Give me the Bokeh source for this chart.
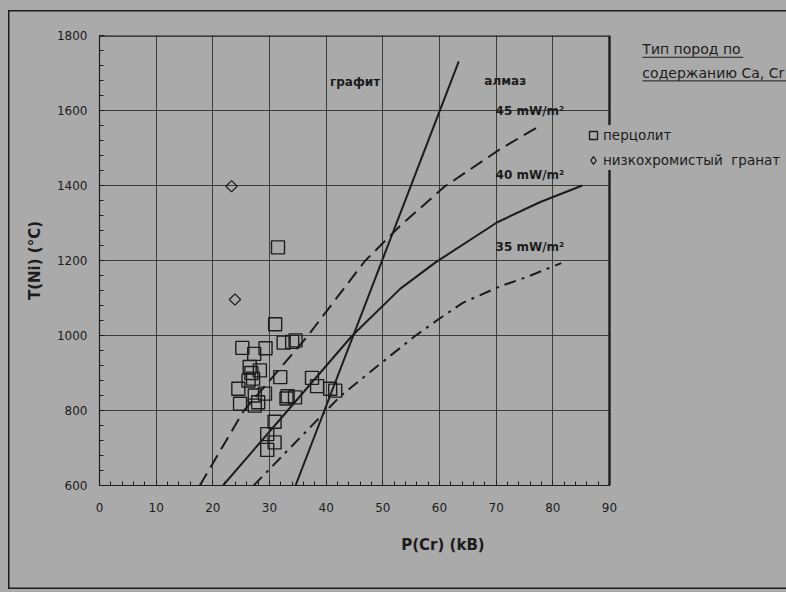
from bokeh.plotting import figure
from bokeh.models import Range1d, SingleIntervalTicker, Label, Legend, LegendItem
from bokeh.embed import file_html
from bokeh.resources import INLINE

# ---------------- data ----------------
# peridotite samples (open squares): P(Cr) kbar, T(Ni) degC
lherz_P = [31.5, 31.0, 25.2, 27.3, 29.3, 32.5, 34.6, 34.0, 26.5, 28.3, 26.8, 27.1,
           26.3, 24.5, 31.9, 37.5, 38.4, 40.7, 41.6, 33.2, 34.5, 33.0, 29.2, 27.4,
           24.8, 27.4, 28.0, 30.9, 29.6, 30.9, 29.6]
lherz_T = [1235, 1030, 967, 951, 966, 981, 987, 983, 916, 907, 900, 885,
           880, 858, 889, 887, 865, 858, 853, 838, 835, 832, 845, 840,
           818, 813, 822, 770, 737, 715, 695]
# low-Cr garnets (open diamonds)
lowcr_P = [23.3, 23.9]
lowcr_T = [1398, 1096]

# graphite / diamond boundary
gd_P = [34.6, 63.4]
gd_T = [600, 1731]
# geotherms
g45_P = [17.7, 25.4, 36.7, 46.8, 53.1, 60.8, 70.8, 77.5]
g45_T = [600, 798, 998, 1198, 1293, 1396, 1498, 1557]
g40_P = [21.8, 33.1, 44.5, 53.1, 59.3, 70.2, 77.8, 85.2]
g40_T = [600, 798, 998, 1125, 1195, 1302, 1356, 1400]
g35_P = [27.2, 42.5, 49.0, 55.8, 59.9, 64.1, 70.5, 75.4, 81.5]
g35_T = [600, 838, 918, 1000, 1044, 1087, 1130, 1156, 1193]

x_min, x_max, x_step = 0, 90, 10
y_min, y_max, y_step = 600, 1800, 200
y_grid_values = list(range(y_min + y_step, y_max, y_step))

# ---------------- styling ----------------
BG = "#aaaaaa"
INK = "#1c1c1c"
GRID = "#3c3c3c"
FONT = "DejaVu Sans"

# frame: data 0..90 spans 510 px; the frame extends to the right page edge
px_per_unit = 510 / 90
x_right = x_max + (786 - 609) / px_per_unit

p = figure(width=786, height=592, output_backend="svg", toolbar_location=None,
           x_range=Range1d(x_min, x_right), y_range=Range1d(y_min, y_max),
           min_border_left=99, min_border_right=0, min_border_top=35, min_border_bottom=107)
p.background_fill_color = BG
p.background_fill_alpha = 0
p.border_fill_color = BG
p.border_fill_alpha = 0
p.outline_line_color = None
p.styles = {
    "background-color": BG,
    "box-shadow": ("inset 8px 0 0 0 %s, inset 0 10px 0 0 %s, inset 0 -3px 0 0 %s, "
                   "inset 9.5px 0 0 0 %s, inset 0 11.5px 0 0 %s, inset 0 -4.5px 0 0 %s")
                  % (BG, BG, BG, INK, INK, INK),
}

# axes
p.xaxis.ticker = SingleIntervalTicker(interval=x_step, num_minor_ticks=5)
p.yaxis.ticker = SingleIntervalTicker(interval=y_step, num_minor_ticks=5)
p.xaxis.bounds = (x_min, x_max)
for ax in (p.xaxis[0], p.yaxis[0]):
    ax.axis_line_color = INK
    ax.axis_line_width = 1.2
    ax.major_tick_line_color = INK
    ax.minor_tick_line_color = INK
    ax.major_tick_in = 5
    ax.major_tick_out = 0
    ax.minor_tick_in = 4
    ax.minor_tick_out = 0
    ax.major_label_text_font = FONT
    ax.major_label_text_font_size = "12px"
    ax.major_label_text_color = INK
    ax.axis_label_text_font = FONT
    ax.axis_label_text_font_size = "15px"
    ax.axis_label_text_font_style = "bold"
    ax.axis_label_text_color = INK
p.xaxis.axis_label = "P(Cr) (kB)"
p.yaxis.axis_label = "T(Ni) (°C)"
p.xaxis.major_label_standoff = 17
p.xaxis.axis_label_standoff = 21
p.yaxis.major_label_standoff = 12
p.yaxis.axis_label_standoff = 10

p.xgrid.grid_line_color = GRID
p.xgrid.grid_line_width = 1
p.xgrid.bounds = (x_min, x_max)
p.ygrid.visible = False
# horizontal grid lines only across the data area
p.segment(x0=[x_min] * len(y_grid_values), x1=[x_max] * len(y_grid_values),
          y0=y_grid_values, y1=y_grid_values, line_color=GRID, line_width=1)
# top and right edges of the plot box
p.segment(x0=[x_min, x_max], x1=[x_max, x_max], y0=[y_max, y_min], y1=[y_max, y_max],
          line_color=INK, line_width=2.4)

# lines
p.line(gd_P, gd_T, line_color=INK, line_width=2)
p.line(g45_P, g45_T, line_color=INK, line_width=2, line_dash="14 7")
p.line(g40_P, g40_T, line_color=INK, line_width=2)
p.line(g35_P, g35_T, line_color=INK, line_width=2, line_dash="12 6 3 6")

# points
r_sq = p.scatter(lherz_P, lherz_T, marker="square", size=13, fill_color=None,
                 line_color=INK, line_width=1.4)
p.scatter(lowcr_P, lowcr_T, marker="square", angle=0.785398, size=8,
          fill_color=None, line_color=INK, line_width=1.2)
# legend-only glyph for the diamonds (not drawn in the plot area)
r_di_leg = p.scatter([float("nan")], [float("nan")], marker="diamond", size=12,
                     fill_color=None, line_color=INK, line_width=1.3)

# labels on plot
lab = dict(text_font=FONT, text_font_size="12px", text_font_style="bold",
           text_color=INK, text_baseline="middle")
p.add_layout(Label(x=45.1, y=1675, text="графит", text_align="center", **lab))
p.add_layout(Label(x=71.6, y=1680, text="алмаз", text_align="center", **lab))
p.add_layout(Label(x=69.9, y=1600, text="45 mW/m²", text_align="left", **lab))
p.add_layout(Label(x=69.9, y=1427, text="40 mW/m²", text_align="left", **lab))
p.add_layout(Label(x=69.9, y=1235, text="35 mW/m²", text_align="left", **lab))

# legend title (underlined)
tl = dict(text_font=FONT, text_font_size="14px", text_color=INK,
          text_baseline="middle", text_align="left")
title_x = 95.8
p.add_layout(Label(x=title_x, y=1763, text="Тип пород по", **tl))
p.add_layout(Label(x=title_x, y=1700, text="содержанию Ca, Cr", **tl))
p.segment(x0=[title_x, title_x], x1=[113.6, x_right], y0=[1742, 1679], y1=[1742, 1679],
          line_color=INK, line_width=1)

legend = Legend(items=[LegendItem(label="перцолит", renderers=[r_sq]),
                       LegendItem(label="низкохромистый  гранат", renderers=[r_di_leg])],
                location=(484, 315))
legend.label_text_font = FONT
legend.label_text_font_size = "13.5px"
legend.label_text_color = INK
legend.background_fill_color = BG
legend.background_fill_alpha = 1
legend.border_line_color = None
legend.glyph_width = 20
legend.glyph_height = 20
legend.label_height = 20
legend.label_standoff = 0
legend.spacing = 5
legend.padding = 4
legend.margin = 0
p.add_layout(legend, "center")

html = file_html(p, INLINE)
html = html.replace("<body>", '<body style="background:%s;">' % BG, 1)
open("out.html", "w").write(html)
